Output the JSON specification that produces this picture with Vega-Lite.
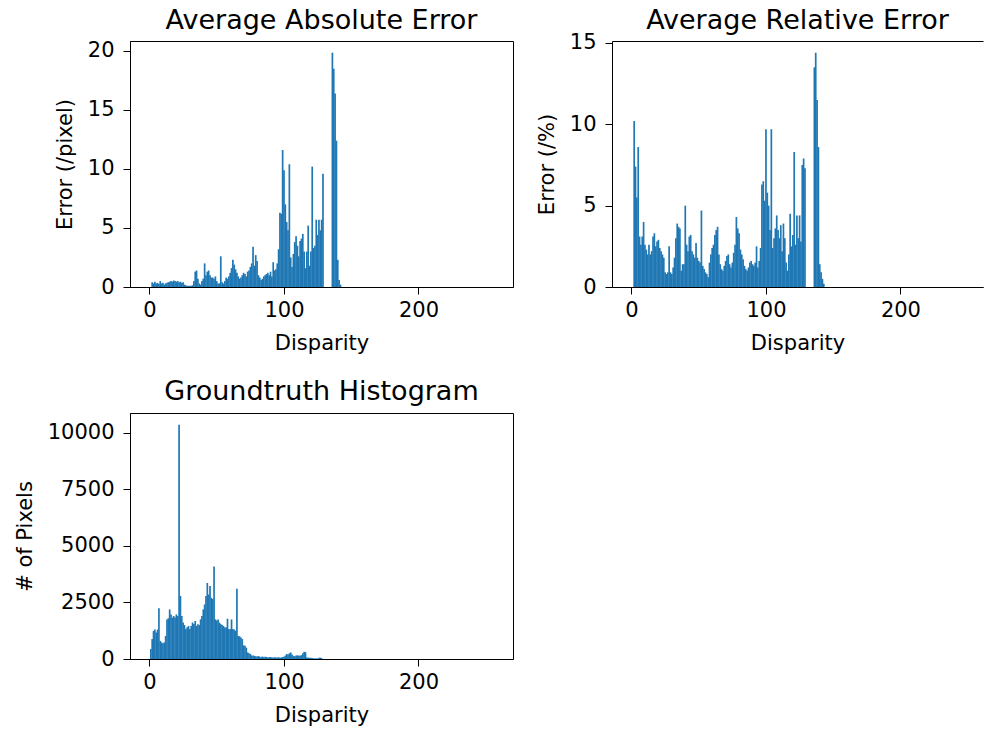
{
  "$schema": "https://vega.github.io/schema/vega-lite/v6.json",
  "padding": {"left": 13, "top": 6, "right": 0, "bottom": 0},
  "datasets": {
    "abs": [
      {"d":2,"v":0.4},{"d":3,"v":0.3},{"d":4,"v":0.45},{"d":5,"v":0.3},{"d":6,"v":0.35},{"d":7,"v":0.25},{"d":8,"v":0.5},{"d":9,"v":0.3},{"d":10,"v":0.35},{"d":11,"v":0.2},{"d":12,"v":0.3},{"d":13,"v":0.35},{"d":14,"v":0.4},{"d":15,"v":0.45},{"d":16,"v":0.5},{"d":17,"v":0.45},{"d":18,"v":0.55},{"d":19,"v":0.5},{"d":20,"v":0.45},{"d":21,"v":0.5},{"d":22,"v":0.4},{"d":23,"v":0.45},{"d":24,"v":0.35},{"d":25,"v":0.4},{"d":26,"v":0.2},{"d":27,"v":0.15},{"d":28,"v":0.1},{"d":29,"v":0.1},{"d":30,"v":0.1},{"d":31,"v":0.1},{"d":32,"v":0.15},{"d":33,"v":0.5},{"d":34,"v":1.3},{"d":35,"v":1.4},{"d":36,"v":0.7},{"d":37,"v":0.3},{"d":38,"v":0.2},{"d":39,"v":0.5},{"d":40,"v":0.7},{"d":41,"v":2.0},{"d":42,"v":1.0},{"d":43,"v":1.3},{"d":44,"v":1.4},{"d":45,"v":1.0},{"d":46,"v":0.8},{"d":47,"v":0.8},{"d":48,"v":0.7},{"d":49,"v":0.9},{"d":50,"v":0.5},{"d":51,"v":0.3},{"d":52,"v":0.3},{"d":53,"v":2.6},{"d":54,"v":0.4},{"d":55,"v":0.3},{"d":56,"v":0.5},{"d":57,"v":0.8},{"d":58,"v":0.7},{"d":59,"v":0.9},{"d":60,"v":1.2},{"d":61,"v":1.6},{"d":62,"v":2.3},{"d":63,"v":1.9},{"d":64,"v":1.5},{"d":65,"v":1.2},{"d":66,"v":0.9},{"d":67,"v":0.7},{"d":68,"v":0.8},{"d":69,"v":1.0},{"d":70,"v":1.2},{"d":71,"v":1.1},{"d":72,"v":0.9},{"d":73,"v":1.3},{"d":74,"v":1.4},{"d":75,"v":1.7},{"d":76,"v":2.0},{"d":77,"v":3.4},{"d":78,"v":1.8},{"d":79,"v":2.7},{"d":80,"v":2.2},{"d":81,"v":1.0},{"d":82,"v":0.8},{"d":83,"v":0.6},{"d":84,"v":0.7},{"d":85,"v":0.9},{"d":86,"v":1.0},{"d":87,"v":1.1},{"d":88,"v":1.2},{"d":89,"v":1.0},{"d":90,"v":1.3},{"d":91,"v":0.9},{"d":92,"v":2.1},{"d":93,"v":1.4},{"d":94,"v":1.5},{"d":95,"v":2.0},{"d":96,"v":3.2},{"d":97,"v":6.3},{"d":98,"v":6.2},{"d":99,"v":11.6},{"d":100,"v":9.9},{"d":101,"v":7.0},{"d":102,"v":5.5},{"d":103,"v":4.8},{"d":104,"v":10.4},{"d":105,"v":2.5},{"d":106,"v":1.7},{"d":107,"v":2.8},{"d":108,"v":3.8},{"d":109,"v":4.3},{"d":110,"v":3.5},{"d":111,"v":2.6},{"d":112,"v":3.9},{"d":113,"v":4.1},{"d":114,"v":4.5},{"d":115,"v":3.0},{"d":116,"v":1.6},{"d":117,"v":3.0},{"d":118,"v":5.2},{"d":119,"v":1.8},{"d":120,"v":3.0},{"d":121,"v":10.2},{"d":122,"v":3.3},{"d":123,"v":3.5},{"d":124,"v":5.7},{"d":125,"v":4.4},{"d":126,"v":5.7},{"d":127,"v":4.8},{"d":128,"v":5.7},{"d":129,"v":9.6},{"d":136,"v":19.85},{"d":137,"v":18.5},{"d":138,"v":16.4},{"d":139,"v":12.4},{"d":140,"v":2.3},{"d":141,"v":0.6},{"d":142,"v":0.2}
    ],
    "rel": [
      {"d":2,"v":10.2},{"d":3,"v":7.4},{"d":4,"v":5.5},{"d":5,"v":8.6},{"d":6,"v":3.1},{"d":7,"v":2.6},{"d":8,"v":3.1},{"d":9,"v":4.0},{"d":10,"v":2.6},{"d":11,"v":2.3},{"d":12,"v":2.0},{"d":13,"v":2.6},{"d":14,"v":2.0},{"d":15,"v":2.2},{"d":16,"v":3.1},{"d":17,"v":3.3},{"d":18,"v":2.5},{"d":19,"v":2.8},{"d":20,"v":2.9},{"d":21,"v":2.4},{"d":22,"v":2.2},{"d":23,"v":2.0},{"d":24,"v":1.8},{"d":25,"v":0.9},{"d":26,"v":0.8},{"d":27,"v":0.9},{"d":28,"v":2.5},{"d":29,"v":0.9},{"d":30,"v":0.8},{"d":31,"v":1.2},{"d":32,"v":1.8},{"d":33,"v":3.0},{"d":34,"v":3.9},{"d":35,"v":3.7},{"d":36,"v":3.6},{"d":37,"v":1.0},{"d":38,"v":1.4},{"d":39,"v":1.4},{"d":40,"v":5.0},{"d":41,"v":2.6},{"d":42,"v":2.2},{"d":43,"v":3.1},{"d":44,"v":3.2},{"d":45,"v":2.2},{"d":46,"v":2.0},{"d":47,"v":1.8},{"d":48,"v":2.7},{"d":49,"v":1.8},{"d":50,"v":1.6},{"d":51,"v":1.5},{"d":52,"v":4.7},{"d":53,"v":1.3},{"d":54,"v":1.1},{"d":55,"v":0.9},{"d":56,"v":0.8},{"d":57,"v":0.6},{"d":58,"v":1.5},{"d":59,"v":2.0},{"d":60,"v":2.4},{"d":61,"v":2.6},{"d":62,"v":3.2},{"d":63,"v":3.5},{"d":64,"v":3.7},{"d":65,"v":2.0},{"d":66,"v":1.4},{"d":67,"v":1.1},{"d":68,"v":1.0},{"d":69,"v":1.3},{"d":70,"v":1.6},{"d":71,"v":1.9},{"d":72,"v":2.0},{"d":73,"v":1.4},{"d":74,"v":1.2},{"d":75,"v":1.5},{"d":76,"v":2.1},{"d":77,"v":2.6},{"d":78,"v":4.3},{"d":79,"v":3.6},{"d":80,"v":3.3},{"d":81,"v":2.3},{"d":82,"v":2.0},{"d":83,"v":1.7},{"d":84,"v":1.3},{"d":85,"v":1.1},{"d":86,"v":1.0},{"d":87,"v":1.2},{"d":88,"v":1.5},{"d":89,"v":1.6},{"d":90,"v":1.4},{"d":91,"v":1.3},{"d":92,"v":1.5},{"d":93,"v":2.5},{"d":94,"v":1.2},{"d":95,"v":1.6},{"d":96,"v":2.4},{"d":97,"v":6.3},{"d":98,"v":6.5},{"d":99,"v":5.3},{"d":100,"v":9.7},{"d":101,"v":5.8},{"d":102,"v":5.0},{"d":103,"v":3.5},{"d":104,"v":9.7},{"d":105,"v":2.4},{"d":106,"v":3.0},{"d":107,"v":3.6},{"d":108,"v":4.4},{"d":109,"v":3.5},{"d":110,"v":3.0},{"d":111,"v":3.8},{"d":112,"v":2.2},{"d":113,"v":3.9},{"d":114,"v":3.0},{"d":115,"v":1.5},{"d":116,"v":1.0},{"d":117,"v":2.0},{"d":118,"v":4.5},{"d":119,"v":2.5},{"d":120,"v":3.2},{"d":121,"v":8.3},{"d":122,"v":2.6},{"d":123,"v":4.4},{"d":124,"v":3.0},{"d":125,"v":4.4},{"d":126,"v":2.8},{"d":127,"v":7.5},{"d":128,"v":7.9},{"d":129,"v":7.3},{"d":136,"v":13.5},{"d":137,"v":14.4},{"d":138,"v":11.5},{"d":139,"v":8.6},{"d":140,"v":1.4},{"d":141,"v":0.9},{"d":142,"v":0.5},{"d":143,"v":0.2}
    ],
    "hist": [
      {"d":1,"v":440},{"d":2,"v":880},{"d":3,"v":1240},{"d":4,"v":1300},{"d":5,"v":1170},{"d":6,"v":1300},{"d":7,"v":2240},{"d":8,"v":800},{"d":9,"v":730},{"d":10,"v":700},{"d":11,"v":730},{"d":12,"v":1020},{"d":13,"v":1750},{"d":14,"v":1800},{"d":15,"v":2190},{"d":16,"v":1970},{"d":17,"v":1830},{"d":18,"v":1900},{"d":19,"v":1830},{"d":20,"v":1970},{"d":21,"v":1900},{"d":22,"v":10350},{"d":23,"v":2780},{"d":24,"v":1900},{"d":25,"v":1610},{"d":26,"v":1500},{"d":27,"v":1320},{"d":28,"v":1400},{"d":29,"v":1460},{"d":30,"v":1320},{"d":31,"v":1460},{"d":32,"v":1610},{"d":33,"v":1550},{"d":34,"v":1680},{"d":35,"v":1460},{"d":36,"v":1540},{"d":37,"v":1500},{"d":38,"v":1750},{"d":39,"v":1900},{"d":40,"v":2190},{"d":41,"v":2410},{"d":42,"v":2780},{"d":43,"v":3360},{"d":44,"v":2850},{"d":45,"v":3220},{"d":46,"v":2700},{"d":47,"v":2650},{"d":48,"v":4090},{"d":49,"v":1750},{"d":50,"v":1700},{"d":51,"v":1750},{"d":52,"v":1610},{"d":53,"v":1540},{"d":54,"v":1500},{"d":55,"v":1460},{"d":56,"v":1390},{"d":57,"v":1400},{"d":58,"v":1780},{"d":59,"v":1320},{"d":60,"v":1320},{"d":61,"v":1750},{"d":62,"v":1320},{"d":63,"v":1300},{"d":64,"v":1250},{"d":65,"v":3100},{"d":66,"v":1020},{"d":67,"v":1000},{"d":68,"v":950},{"d":69,"v":880},{"d":70,"v":600},{"d":71,"v":580},{"d":72,"v":500},{"d":73,"v":290},{"d":74,"v":250},{"d":75,"v":220},{"d":76,"v":150},{"d":77,"v":150},{"d":78,"v":140},{"d":79,"v":120},{"d":80,"v":110},{"d":81,"v":130},{"d":82,"v":100},{"d":83,"v":90},{"d":84,"v":110},{"d":85,"v":80},{"d":86,"v":100},{"d":87,"v":90},{"d":88,"v":70},{"d":89,"v":80},{"d":90,"v":90},{"d":91,"v":70},{"d":92,"v":60},{"d":93,"v":80},{"d":94,"v":70},{"d":95,"v":60},{"d":96,"v":80},{"d":97,"v":60},{"d":98,"v":70},{"d":99,"v":90},{"d":100,"v":100},{"d":101,"v":150},{"d":102,"v":220},{"d":103,"v":200},{"d":104,"v":250},{"d":105,"v":290},{"d":106,"v":200},{"d":107,"v":140},{"d":108,"v":120},{"d":109,"v":150},{"d":110,"v":160},{"d":111,"v":150},{"d":112,"v":140},{"d":113,"v":170},{"d":114,"v":250},{"d":115,"v":320},{"d":116,"v":300},{"d":117,"v":70},{"d":118,"v":60},{"d":119,"v":50},{"d":120,"v":60},{"d":121,"v":40},{"d":122,"v":30},{"d":123,"v":20},{"d":124,"v":30},{"d":125,"v":20},{"d":126,"v":50},{"d":127,"v":60},{"d":128,"v":40}
    ]
  },
  "columns": 2,
  "bounds": "flush",
  "spacing": {"row": 126, "column": 99},
  "concat": [
    {
      "title": {"text": "Average Absolute Error", "offset": 5},
      "width": 383,
      "height": 246,
      "data": {"name": "abs"},
      "mark": {"type": "bar", "width": 1.7, "color": "#1f77b4"},
      "encoding": {
        "x": {"field": "d", "type": "quantitative", "title": "Disparity",
              "scale": {"domain": [-14.5, 270.3], "nice": false, "padding": 0},
              "axis": {"values": [0, 100, 200]}},
        "y": {"field": "v", "type": "quantitative", "title": "Error (/pixel)",
              "scale": {"domain": [0, 20.84], "nice": false},
              "axis": {"values": [0, 5, 10, 15, 20]}}
      }
    },
    {
      "title": {"text": "Average Relative Error", "offset": -3},
      "width": 371,
      "height": 246,
      "view": {"stroke": "#000000", "strokeWidth": 1, "strokeDash": [371, 246, 617]},
      "data": {"name": "rel"},
      "mark": {"type": "bar", "width": 1.7, "color": "#1f77b4"},
      "encoding": {
        "x": {"field": "d", "type": "quantitative", "title": "Disparity",
              "scale": {"domain": [-14.5, 261.4], "nice": false, "padding": 0},
              "axis": {"values": [0, 100, 200]}},
        "y": {"field": "v", "type": "quantitative", "title": "Error (/%)",
              "scale": {"domain": [0, 15.12], "nice": false},
              "axis": {"values": [0, 5, 10, 15], "domain": false}}
      }
    },
    {
      "title": {"text": "Groundtruth Histogram", "offset": 7},
      "width": 383,
      "height": 246,
      "data": {"name": "hist"},
      "mark": {"type": "bar", "width": 1.7, "color": "#1f77b4"},
      "encoding": {
        "x": {"field": "d", "type": "quantitative", "title": "Disparity",
              "scale": {"domain": [-14.5, 270.3], "nice": false, "padding": 0},
              "axis": {"values": [0, 100, 200]}},
        "y": {"field": "v", "type": "quantitative", "title": "# of Pixels",
              "scale": {"domain": [0, 10868], "nice": false},
              "axis": {"values": [0, 2500, 5000, 7500, 10000], "format": "d"}}
      }
    }
  ],
  "config": {
    "font": "DejaVu Sans",
    "background": "#ffffff",
    "view": {"stroke": "#000000", "strokeWidth": 1},
    "axis": {
      "grid": false,
      "domain": true,
      "domainColor": "#000000",
      "domainWidth": 1,
      "tickColor": "#000000",
      "labelColor": "#000000",
      "titleColor": "#000000",
      "labelFont": "DejaVu Sans",
      "titleFont": "DejaVu Sans",
      "labelFontSize": 21,
      "titleFontSize": 21,
      "titleFontWeight": "normal",
      "tickSize": 7,
      "labelOverlap": false
    },
    "axisX": {"labelPadding": 5, "titlePadding": 12},
    "axisY": {"labelPadding": 9, "titlePadding": 12},
    "title": {"font": "DejaVu Sans", "fontSize": 27, "fontWeight": "normal", "color": "#000000"}
  }
}
